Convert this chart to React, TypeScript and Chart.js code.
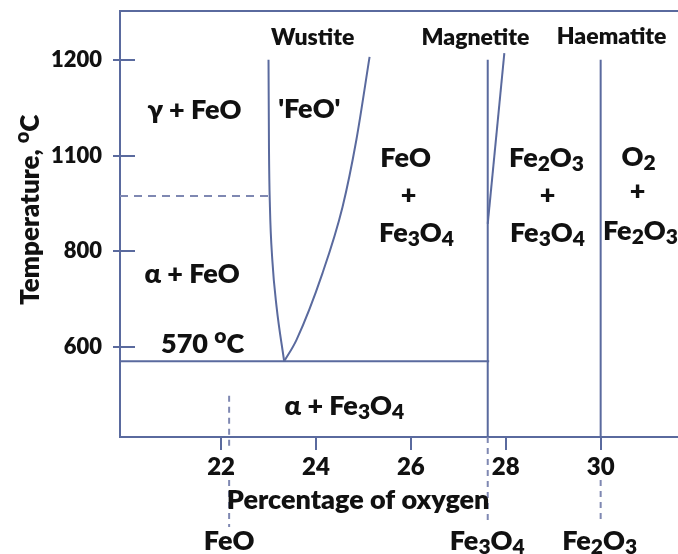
import React, { useEffect, useRef } from "react";
import { Chart, registerables } from "chart.js";

Chart.register(...registerables);

// ---------- data ----------
const xTicks = [22, 24, 26, 28, 30];
const yTickTemps = [600, 800, 1100, 1200];
const xMin = 19.87;
const xMax = 31.63;
const tMin = 412;
const tMax = 1251;

const wustiteLeftPct = [23.0, 23.01, 23.03, 23.08, 23.17, 23.33];
const wustiteLeftTemp = [1200, 1106, 939, 782, 684, 570];
const wustiteRightPct = [23.33, 23.59, 24.14, 24.56, 24.85, 25.13];
const wustiteRightTemp = [570, 615, 755, 939, 1116, 1203];
const eutectoidPct = [xMin, 27.65];
const eutectoidTemp = [570, 570];
const gammaAlphaPct = [xMin, 23.0];
const gammaAlphaTemp = [973, 973];
const magnetitePct = [27.62, 27.62];
const magnetiteTemp = [1200, tMin];
const magnetiteUpperPct = [27.97, 27.62];
const magnetiteUpperTemp = [1207, 886];
const haematitePct = [30, 30];
const haematiteTemp = [1200, tMin];
const feoLeaderPct = [22.17, 22.17];
const feoLeaderTempA = [498, 385];
const feoLeaderTempB = [322, 224];
const fe3o4LeaderPct = [27.62, 27.62];
const fe3o4LeaderTemp = [412, 232];
const fe2o3LeaderPct = [30, 30];
const fe2o3LeaderTemp = [322, 232];

// labels: text ("_x" subscript, "^x" superscript), x in %, y in °C
const labelTexts = [
  "Wustite", "Magnetite", "Haematite",
  "γ + FeO", "'FeO'",
  "FeO", "+", "Fe_3O_4",
  "Fe_2O_3", "+", "Fe_3O_4",
  "O_2", "+", "Fe_2O_3",
  "α + FeO", "570 ^oC", "α + Fe_3O_4",
  "FeO", "Fe_3O_4", "Fe_2O_3",
  "Percentage of oxygen", "Temperature, ^oC",
];
const labelPct = [
  23.93, 27.36, 30.23,
  21.44, 23.86,
  25.89, 25.95, 26.12,
  28.86, 28.88, 28.88,
  30.8, 30.78, 30.84,
  21.39, 21.61, 24.6,
  22.17, 27.61, 29.98,
  24.89, 17.96,
];
const labelTemp = [
  1224, 1224, 1225,
  1148, 1149,
  1096, 980, 861,
  1096, 980, 861,
  1099, 992, 867,
  755, 608, 479,
  197, 197, 197,
  282, 930,
];
// 0 = header, 1 = region label, 2 = rotated axis title
const labelKind = [
  0, 0, 0, 1, 1, 1, 1, 1, 1, 1, 1,
  1, 1, 1, 1, 1, 1, 1, 1, 1, 1, 2,
];

// ---------- helpers ----------
function tempToLevel(t: number): number {
  if (t <= 800) return 1 + (t - 600) / 200;
  if (t <= 1100) return 2 + (t - 800) / 300;
  return 3 + (t - 1100) / 100;
}

function pts(xs: number[], ts: number[]) {
  return xs.map((x, i) => ({ x, y: tempToLevel(ts[i]) }));
}

const LINE = "#5a6a9e";
const DASH = "#7f88b2";
const FONT = "Lato, 'Open Sans', sans-serif";
const WEIGHT = "800";

function drawRich(ctx: CanvasRenderingContext2D, text: string, cx: number, cy: number, size: number) {
  const segs: { t: string; k: number }[] = [];
  let i = 0;
  while (i < text.length) {
    const c = text[i];
    if ((c === "_" || c === "^") && i + 1 < text.length) {
      segs.push({ t: text[i + 1], k: c === "_" ? 1 : 2 });
      i += 2;
    } else {
      if (segs.length && segs[segs.length - 1].k === 0) segs[segs.length - 1].t += c;
      else segs.push({ t: c, k: 0 });
      i++;
    }
  }
  const mainF = `${WEIGHT} ${size}px ${FONT}`;
  const smallF = `${WEIGHT} ${Math.round(size * 0.78)}px ${FONT}`;
  let total = 0;
  const widths = segs.map((s) => {
    ctx.font = s.k === 0 ? mainF : smallF;
    const w = ctx.measureText(s.t).width;
    total += w;
    return w;
  });
  let x = cx - total / 2;
  const base = cy + size * 0.36;
  ctx.textAlign = "left";
  ctx.textBaseline = "alphabetic";
  segs.forEach((s, j) => {
    ctx.font = s.k === 0 ? mainF : smallF;
    const dy = s.k === 1 ? size * 0.16 : s.k === 2 ? -size * 0.36 : 0;
    ctx.fillText(s.t, x, base + dy);
    x += widths[j];
  });
}

const labelPlugin = {
  id: "phaseLabels",
  afterDraw(chart: any) {
    const ctx = chart.ctx as CanvasRenderingContext2D;
    const xs = chart.scales.x;
    const ys = chart.scales.y;
    const area = chart.chartArea;
    ctx.save();
    ctx.strokeStyle = LINE;
    ctx.lineWidth = 2;
    yTickTemps.forEach((t) => {
      const py = Math.round(ys.getPixelForValue(tempToLevel(t)));
      ctx.beginPath();
      ctx.moveTo(area.left, py);
      ctx.lineTo(area.left + 15, py);
      ctx.stroke();
    });
    ctx.fillStyle = "#111";
    labelTexts.forEach((txt, i) => {
      const px = xs.getPixelForValue(labelPct[i]);
      const py = ys.getPixelForValue(tempToLevel(labelTemp[i]));
      const k = labelKind[i];
      if (k === 2) {
        ctx.save();
        ctx.translate(px, py);
        ctx.rotate(-Math.PI / 2);
        drawRich(ctx, txt, 0, 0, 26);
        ctx.restore();
      } else {
        drawRich(ctx, txt, px, py, k === 0 ? 23 : 27);
      }
    });
    ctx.restore();
  },
};

export default function App() {
  const ref = useRef<HTMLCanvasElement | null>(null);
  useEffect(() => {
    if (!ref.current) return;
    const solid = (data: any[], extra: any = {}) => ({
      data,
      borderColor: LINE,
      borderWidth: 2,
      pointRadius: 0,
      fill: false,
      ...extra,
    });
    const chart = new Chart(ref.current, {
      type: "line",
      data: {
        datasets: [
          solid(pts(wustiteLeftPct, wustiteLeftTemp), { cubicInterpolationMode: "monotone" }),
          solid(pts(wustiteRightPct, wustiteRightTemp), { cubicInterpolationMode: "monotone" }),
          solid(pts(eutectoidPct, eutectoidTemp)),
          solid(pts(gammaAlphaPct, gammaAlphaTemp), { borderDash: [8, 6], borderColor: DASH }),
          solid(pts(magnetitePct, magnetiteTemp)),
          solid(pts(magnetiteUpperPct, magnetiteUpperTemp)),
          solid(pts(haematitePct, haematiteTemp)),
          solid(pts(feoLeaderPct, feoLeaderTempA), { borderDash: [6, 5], borderColor: DASH, clip: false }),
          solid(pts(feoLeaderPct, feoLeaderTempB), { borderDash: [6, 5], borderColor: DASH, clip: false }),
          solid(pts(fe3o4LeaderPct, fe3o4LeaderTemp), { borderDash: [6, 5], borderColor: DASH, clip: false }),
          solid(pts(fe2o3LeaderPct, fe2o3LeaderTemp), { borderDash: [6, 5], borderColor: DASH, clip: false }),
        ],
      },
      options: {
        animation: false,
        responsive: false,
        maintainAspectRatio: false,
        layout: { padding: 0 },
        plugins: { legend: { display: false }, tooltip: { enabled: false } },
        scales: {
          x: {
            type: "linear",
            position: "bottom",
            min: xMin,
            max: xMax,
            afterBuildTicks: (s: any) => {
              s.ticks = xTicks.map((v) => ({ value: v }));
            },
            afterFit: (s: any) => {
              s.height = 117;
              s.paddingLeft = 0;
              s.paddingRight = 0;
            },
            ticks: {
              color: "#111",
              font: { family: FONT, size: 24, weight: WEIGHT },
              padding: 3,
              maxRotation: 0,
              autoSkip: false,
              callback: (v: any) => String(v),
            },
            grid: { display: true, drawOnChartArea: false, drawTicks: true, tickLength: 13, color: LINE, lineWidth: 2 },
            border: { display: true, color: LINE, width: 2 },
          },
          x2: {
            type: "linear",
            position: "top",
            min: xMin,
            max: xMax,
            afterFit: (s: any) => {
              s.height = 11;
              s.paddingLeft = 0;
              s.paddingRight = 0;
            },
            ticks: { display: false },
            grid: { display: false, drawTicks: false },
            border: { display: true, color: LINE, width: 2 },
          },
          y: {
            type: "linear",
            position: "left",
            min: tempToLevel(tMin),
            max: tempToLevel(tMax),
            afterBuildTicks: (s: any) => {
              s.ticks = yTickTemps.map((t) => ({ value: tempToLevel(t) }));
            },
            afterFit: (s: any) => {
              s.width = 120;
              s.paddingTop = 0;
              s.paddingBottom = 0;
            },
            ticks: {
              color: "#111",
              font: { family: FONT, size: 22, weight: WEIGHT },
              padding: 11,
              autoSkip: false,
              callback: (_v: any, i: number) => String(yTickTemps[i]),
            },
            grid: { display: true, drawOnChartArea: false, drawTicks: true, tickLength: 7, color: LINE, lineWidth: 2 },
            border: { display: true, color: LINE, width: 2 },
          },
        },
      },
      plugins: [labelPlugin],
    } as any);
    return () => chart.destroy();
  }, []);
  return (
    <div style={{ position: "fixed", left: 0, top: 0, width: 678, height: 554, background: "#fff" }}>
      <canvas ref={ref} width={678} height={554} style={{ display: "block" }} />
    </div>
  );
}
